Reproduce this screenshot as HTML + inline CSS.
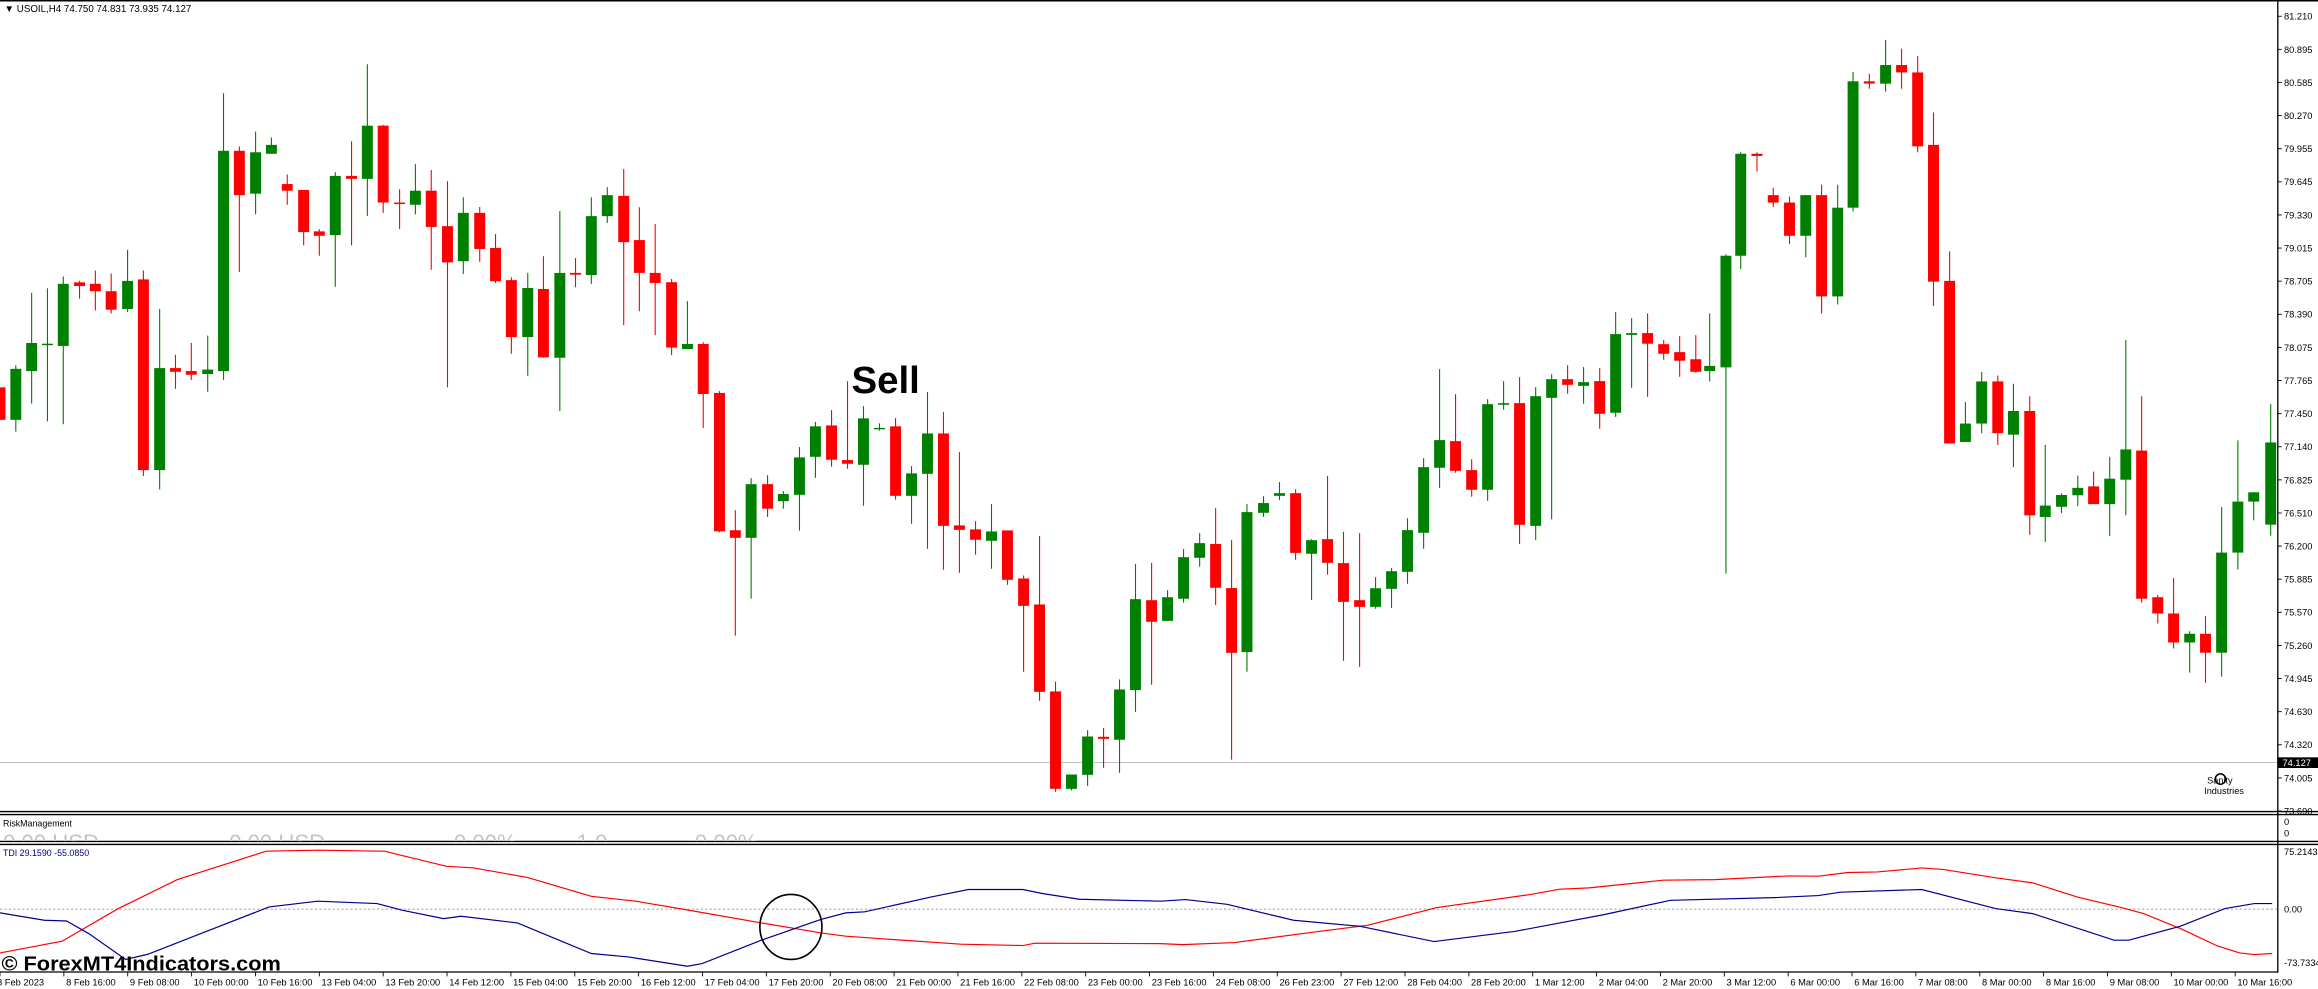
<!DOCTYPE html>
<html><head><meta charset="utf-8"><style>
html,body{margin:0;padding:0;background:#fff;overflow:hidden}
svg{display:block}
text{font-family:"Liberation Sans",sans-serif}
</style></head><body>
<svg id="s" width="2318" height="989" viewBox="0 0 1568 669" preserveAspectRatio="none" xmlns="http://www.w3.org/2000/svg">
<defs>
<clipPath id="mc"><rect x="0" y="1" width="1540.5" height="547"/></clipPath>
<clipPath id="rc"><rect x="0" y="551" width="1540.5" height="18"/></clipPath>
<clipPath id="tc"><rect x="0" y="572" width="1540.5" height="85"/></clipPath>
</defs>
<rect width="1568" height="669" fill="#fff"/>
<line x1="0" y1="0.5" x2="1568" y2="0.5" stroke="#000" stroke-width="1"/>
<line x1="0" y1="515.8" x2="1540.5" y2="515.8" stroke="#c0c0c0" stroke-width="0.7"/>
<g id="candles" clip-path="url(#mc)"></g>
<text x="576" y="266" font-size="26" font-weight="bold" fill="#000">Sell</text>
<text x="3" y="8" font-size="6.6" fill="#000">▼ USOIL,H4  74.750 74.831 73.935 74.127</text>
<text x="1493" y="530" font-size="6.2" fill="#000">Sanity</text>
<text x="1491" y="537" font-size="6.2" fill="#000">Industries</text>
<circle cx="1502" cy="527" r="3.5" fill="none" stroke="#000" stroke-width="1"/>
<line x1="0" y1="549" x2="1568" y2="549" stroke="#000" stroke-width="0.9"/>
<line x1="0" y1="551" x2="1568" y2="551" stroke="#000" stroke-width="0.9"/>
<line x1="0" y1="569.2" x2="1568" y2="569.2" stroke="#000" stroke-width="0.9"/>
<line x1="0" y1="571.2" x2="1568" y2="571.2" stroke="#000" stroke-width="0.9"/>
<line x1="0" y1="657.5" x2="1541" y2="657.5" stroke="#000" stroke-width="0.9"/>
<line x1="1540.8" y1="0" x2="1540.8" y2="658" stroke="#000" stroke-width="0.9"/>
<text x="2" y="559" font-size="6" fill="#000">RiskManagement</text>
<g clip-path="url(#rc)" fill="#c4c4c4" font-size="15">
<text x="2" y="575">0.00 USD</text><text x="155" y="575">0.00 USD</text>
<text x="307" y="575">0.00%</text><text x="390" y="575">1.0</text><text x="470" y="575">0.00%</text>
</g>
<text x="2" y="579" font-size="6" fill="#000080">TDI 29.1590 -55.0850</text>
<line x1="0" y1="615" x2="1540" y2="615" stroke="#aaa" stroke-width="0.7" stroke-dasharray="1.5,1.5"/>
<g clip-path="url(#tc)" fill="none" stroke-width="0.8">
<polyline stroke="#ff0000" points="0,644.6 42,636.7 80,614.6 120,595 180,575.8 215,575.1 260,575.8 302,586 320,587 357,593.6 400,606.3 430,609.6 470,616.4 515,624.3 555,631 572,633.3 650,638.7 692,639.6 700,638 785,638.3 800,639 835,637.6 885,631 925,625.9 972,613.9 1035,605.1 1055,601.5 1075,600.6 1125,595.4 1160,595 1210,592.5 1230,592.7 1250,590.2 1270,589.8 1300,587.1 1315,588.2 1350,593.8 1375,597.2 1405,606.7 1435,613.9 1450,618 1475,628.1 1500,639.9 1515,644.6 1525,645.7 1537,645"/>
<polyline stroke="#000090" points="0,617.5 30,622.5 45,623 60,631.5 85,649 100,645.5 130,633.8 182,613.5 215,609.6 255,611.2 272,615.7 300,621.4 312,619.8 350,624.3 370,632.6 400,645 425,647.3 465,653.6 475,651.8 515,636 555,622 572,617.5 585,616.8 630,606.7 655,601.7 692,601.7 705,604.4 730,608.3 785,609.6 802,608.5 830,611.7 875,622.5 920,626.6 970,636.9 1025,630 1085,618.7 1130,609 1200,607.2 1230,605.8 1245,603.5 1300,601.7 1350,614.6 1375,618 1430,636 1440,636 1475,626.5 1505,614.6 1525,611.2 1537,611.2"/>
</g>
<ellipse cx="535" cy="627" rx="21" ry="22" fill="none" stroke="#000" stroke-width="1.1"/>
<text x="1" y="656.5" font-size="13.5" font-weight="bold" fill="#000" textLength="189" lengthAdjust="spacingAndGlyphs">© ForexMT4Indicators.com</text>
<g id="axis" font-size="6.3" fill="#000"></g>
</svg>
<script>
var R='#ff0000',G='#008000';
var d=[
[0,262,284,262,284,'r'],[10.7,249.5,284,247,292,'g'],[21.4,232,251,198,273,'g'],[32.1,232.5,233.5,195,285,'g'],[42.8,192,234,187,287,'g'],[53.8,191,193.5,190,202,'r'],[64.5,192,197,183,210,'r'],[75.2,197,209.5,185,212,'r'],[86.3,190,209,169,211,'g'],[97,189,318,183,322,'r'],[108,249,318,209,331,'g'],[118.7,249,251.5,240,263,'r'],[129.4,251,253.5,232,257,'r'],[140.5,250,253,227,265,'g'],[151.2,102,251,63,257,'g'],[161.9,102,132,99,184,'r'],[172.9,103,131,89,145,'g'],[183.6,98,104,93,104,'g'],[194.3,124.5,129,118,138.5,'r'],[205.4,128.5,157,128.5,166,'r'],[216,156.5,159.5,155,173,'r'],[226.8,119,159,116.5,194,'g'],[237.8,119,121,95.5,166,'r'],[248.5,85,121,43.5,146,'g'],[259.2,85,137,84.5,144,'r'],[270.3,137,138,128,155,'r'],[281,129,138.5,111,145,'g'],[291.7,129,153.5,115,182.5,'r'],[302.7,153,177.5,122.5,262,'r'],[313.4,144,176.7,133.4,185.3,'g'],[324.5,144,168.4,140,177.1,'r'],[335.2,167.7,190.2,158.3,191.4,'r'],[345.9,189.5,228,187.5,239.3,'r'],[357,194.8,228,184.6,254.2,'g'],[367.6,195.5,241.7,173.3,242,'r'],[378.7,184.6,242,142.8,278,'g'],[389.3,184.6,185.8,174.5,194.3,'r'],[400,146.2,186,133.4,192,'g'],[410.8,132,146.2,126.6,150.8,'g'],[421.9,132.5,163.8,114.3,220,'r'],[432.5,162.4,184.6,140.2,210.5,'r'],[443.2,184.6,191.4,151.5,226.7,'r'],[454.3,190.9,235.1,188.7,240.2,'r'],[465,232.7,236.1,203.7,236.1,'g'],[475.7,232.7,266.5,231.5,289.5,'r'],[486.7,265.8,359.4,264.6,360,'r'],[497.4,358.7,363.8,345.1,430,'r'],[508.1,327.5,363.8,323.4,405,'g'],[519.2,327.5,344.1,321.4,349.7,'r'],[529.9,334.2,339,332.2,344.1,'g'],
[540.8,309.4,334.7,302.4,359,'g'],[551.6,288.4,309,285.5,323.2,'g'],[562.5,287.8,311,277.4,315.7,'r'],[573.3,311.2,313.7,257.8,317.1,'r'],[584.1,283,314.4,274.7,342.1,'g'],[594.9,289.5,290.2,286.4,291.4,'g'],[605.8,288.4,335.4,282.8,338,'r'],[616.6,320.2,335.4,315.3,354.3,'g'],[627.4,293.2,320.5,265.2,371.2,'g'],[638.2,293.2,355.7,278.8,385.4,'r'],[649,355.4,358.4,305.8,387.5,'r'],[659.9,358.1,365.1,352.5,375.3,'r'],[670.7,359.5,365.8,341,384.7,'g'],[681.5,358.8,392.2,358.8,395.6,'r'],[692.4,391.3,409.8,389.3,454.4,'r'],[703.2,408.9,468,362.6,474.1,'r'],[714,467.7,533.6,461,535.6,'r'],[724.8,523.9,533.6,523.9,534.7,'g'],[735.7,498.2,524.1,493.9,531.6,'g'],[746.5,498.4,499.8,492.5,519.4,'r'],[757.3,466.4,500.4,459.6,522.8,'g'],[768.1,405.3,466.8,381.6,481.5,'g'],[779,406,420.6,380.7,463.2,'r'],[789.8,404,420,399.2,420,'g'],[800.6,376.9,405,371.4,407.7,'g'],[811.5,367.4,377.3,360.6,383.4,'g'],[822.3,368,397.6,343.7,409.3,'r'],[833.1,397.8,441.6,365.4,513.8,'r'],[843.5,346.4,441.1,341,454.4,'g'],
[854.7,340.3,346.9,335.6,349.6,'g'],[865.5,333.6,335.4,326.1,338.3,'g'],[876.4,333.6,374,330.9,378.7,'r'],[887.2,365.4,374.6,364.7,405.8,'g'],[898,364.7,380.7,322,388.8,'r'],[908.8,380.9,407.1,359.7,447,'r'],[919.7,406,410.5,360.6,451.1,'r'],[930.5,397.9,410.5,390.4,411.8,'g'],[941.3,386.4,398.3,384.3,411.2,'g'],[952.1,358.6,386.8,350.5,394.9,'g'],[963,316,360.4,309.9,371.2,'g'],[973.8,297.7,316.4,249.7,330,'g'],[984.6,298.4,318.5,266.6,319.8,'r'],[995.5,318,331.3,310.6,336,'r'],[1006.3,273.4,331.3,270,338.8,'g'],[1017.1,272.7,273.8,257.8,277.2,'g'],[1027.9,272.7,355,255.1,367.9,'r'],[1038.8,268,355.7,261.9,365.2,'g'],[1049.6,256.5,269.1,253.1,351.2,'g'],[1060.4,256.5,260.3,247,266.4,'r'],[1071.2,258.5,261,248.3,273.1,'g'],[1082.1,257.8,279.9,249,290,'r'],[1092.9,226,279.2,211.1,282,'g'],[1103.7,225.3,226.5,215.2,262.3,'g'],[1114.5,225.3,232.5,212,268.4,'r'],[1125.4,232.8,239.3,230,243.4,'r'],[1136.2,238.2,244,227.4,254.9,'r'],[1147.1,243,251.5,226.7,252.2,'r'],
[1156.5,247.5,251,212,258,'g'],[1167.5,173,248.5,172,388,'g'],[1177.5,104,173,103,182,'g'],[1188.5,104,105.5,103,116,'r'],[1199.5,132,137,127,140,'r'],[1210.5,137,159.5,133,165,'r'],[1221.5,132,159.5,132,174,'g'],[1232.2,132,200.5,125,212,'r'],[1243.1,140.5,200.5,125,206,'g'],[1253.5,55,140.5,48.7,143,'g'],[1264.5,55,56.5,50,60,'r'],[1275.5,44,56.6,27,62,'g'],[1286.3,44,49,33,60,'r'],[1297.2,49,99,38,103,'r'],[1307.9,98,190.5,76,207,'r'],[1318.8,190,300,170,300,'r'],[1329.5,286.5,299,272,299,'g'],[1340.5,258,286.5,251.6,293,'g'],[1351.4,258,293,254,301,'r'],[1362,278,294,259.6,316,'g'],[1373,278,348.6,268,361.8,'r'],[1383.5,342,349.7,301,366.6,'g'],[1394.5,334.8,342.8,333.8,347,'g'],[1405.5,330,335,321.7,342.4,'g'],[1416.2,329,341,319,341,'r'],[1427.1,323.8,341,309,362.5,'g'],[1438,304,324.5,230,348.6,'g'],[1448.7,304.8,405,268,407.7,'r'],[1459.6,404,415,402.5,421.8,'r'],[1470.3,415,434.6,391,438.7,'r'],[1481.2,428.7,434.6,427,455,'g'],[1491.9,428.7,441.5,416.6,461.9,'r'],[1502.8,373.8,441.5,343,457.7,'g'],[1513.8,339.3,373.8,297.9,385.2,'g'],[1524.5,333,339.3,333,352,'g'],[1536,299.3,354.9,273.4,362.4,'g']
];
var NS='http://www.w3.org/2000/svg';
function el(n,a,p){var e=document.createElementNS(NS,n);for(var k in a)e.setAttribute(k,a[k]);p.appendChild(e);return e;}
var g=document.getElementById('candles');
d.forEach(function(c){var col=c[5]=='g'?G:R;var x=c[0];
el('line',{x1:x,x2:x,y1:c[3],y2:c[4],stroke:col,'stroke-width':0.75},g);
var h=Math.max(c[2]-c[1],0.9);el('rect',{x:x-3.7,y:c[1],width:7.4,height:h,fill:col},g);});
var a=document.getElementById('axis');
var pv=['81.210','80.895','80.585','80.270','79.955','79.645','79.330','79.015','78.705','78.390','78.075','77.765','77.450','77.140','76.825','76.510','76.200','75.885','75.570','75.260','74.945','74.630','74.320','74.005','73.690'];
pv.forEach(function(v,i){var y=11+i*22.4;
el('line',{x1:1540.8,x2:1543.5,y1:y,y2:y,stroke:'#000','stroke-width':0.6},a);
var t=el('text',{x:1545,y:y+2.3},a);t.textContent=v;});
el('rect',{x:1541,y:512.3,width:27,height:7.2,fill:'#000'},a);
var t=el('text',{x:1544,y:518.3,fill:'#fff'},a);t.textContent='74.127';
[['0',558],['0',566],['75.2143',578.5],['0.00',617.3],['-73.7334',653.5]].forEach(function(p){var t=el('text',{x:1545,y:p[1]},a);t.textContent=p[0];});
var tl=['8 Feb 2023','8 Feb 16:00','9 Feb 08:00','10 Feb 00:00','10 Feb 16:00','13 Feb 04:00','13 Feb 20:00','14 Feb 12:00','15 Feb 04:00','15 Feb 20:00','16 Feb 12:00','17 Feb 04:00','17 Feb 20:00','20 Feb 08:00','21 Feb 00:00','21 Feb 16:00','22 Feb 08:00','23 Feb 00:00','23 Feb 16:00','24 Feb 08:00','26 Feb 23:00','27 Feb 12:00','28 Feb 04:00','28 Feb 20:00','1 Mar 12:00','2 Mar 04:00','2 Mar 20:00','3 Mar 12:00','6 Mar 00:00','6 Mar 16:00','7 Mar 08:00','8 Mar 00:00','8 Mar 16:00','9 Mar 08:00','10 Mar 00:00','10 Mar 16:00'];
tl.forEach(function(s,i){var x=i*43.2;
el('line',{x1:x,x2:x,y1:657.5,y2:660.5,stroke:'#000','stroke-width':0.6},a);
var t=el('text',{x:i==0?-2:x+1.5,y:666.5},a);t.textContent=s;});
</script>
</body></html>
